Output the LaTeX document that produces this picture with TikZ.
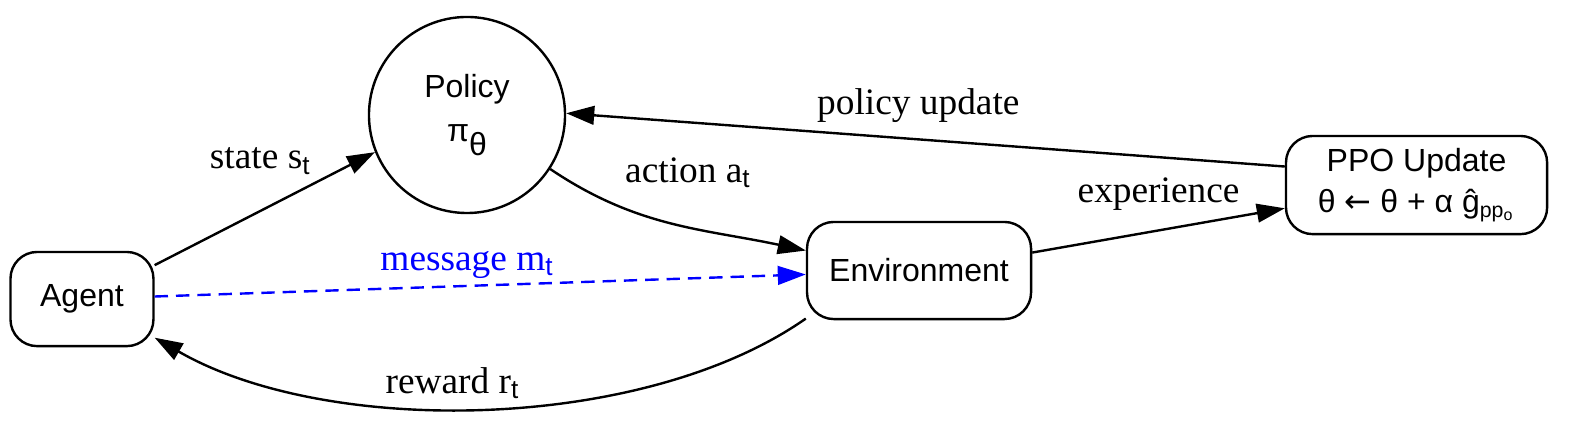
\documentclass[tikz,border=0pt]{standalone}
\usepackage{fontspec}
\setmainfont{Liberation Serif}
\setsansfont{Liberation Sans}
\newfontfamily\symfont{DejaVu Sans}
\usetikzlibrary{arrows.meta}
\newcommand{\subt}{\textsubscript{\sffamily t}}
\tikzset{
    box/.style={draw=black, line width=0.9pt, fill=white, rounded corners=10pt, align=center, inner sep=0pt, font=\sffamily\fontsize{12}{15.5}\selectfont},
    circ/.style={circle, draw=black, line width=0.9pt, fill=white, align=center, inner sep=0pt, minimum size=73.5pt, font=\sffamily\fontsize{12}{14.4}\selectfont},
    arrow/.style={-{Triangle[length=10.5pt, width=7pt]}, line width=0.9pt, black},
    dasharrow/.style={-{Triangle[length=10.5pt, width=7pt]}, line width=0.9pt, blue, dash pattern=on 5pt off 3pt},
    edgelabel/.style={font=\fontsize{14}{16.8}\selectfont, inner sep=0pt}
}
\begin{document}
\begin{tikzpicture}
    \useasboundingbox (0,0) rectangle (20.844,-5.613);
    \node [box, minimum width=53.6pt, minimum height=35.3pt] (agent) at (1.080,-3.940) {Agent};
    \node [circ] (policy) at (6.153,-1.515) {Policy\\[2pt]π\raisebox{-0.45em}{θ}};
    \node [box, minimum width=84pt, minimum height=36.4pt] (env) at (12.109,-3.564) {Environment};
    \node [box, minimum width=97.9pt, minimum height=36.8pt] (ppo) at (18.664,-2.438) {PPO Update\\θ {\symfont←} θ + α ĝ\textsubscript{pp\textsubscript{o}}};
    \draw [arrow] (agent.25) -- node [edgelabel, pos=0.48, yshift=0.66cm] {state s\subt} (policy.202);
    \draw [arrow] (policy.-33) to [out=-34, in=168] node [edgelabel, xshift=0.21cm, yshift=0.67cm] {action a\subt} (env.170);
    \draw [dasharrow] (agent.2) -- node [edgelabel, text=blue, pos=0.48, yshift=0.28cm] {message m\subt} (env.182);
    \draw [arrow] (env.203) to [out=215, in=-30, looseness=0.78] node [edgelabel, xshift=-0.41cm, yshift=0.33cm] {reward r\subt} (agent.-28);
    \draw [arrow] (env.9) -- node [edgelabel, yshift=0.48cm] {experience} (ppo.190);
    \draw [arrow] (ppo.172) -- node [edgelabel, pos=0.51, yshift=0.44cm] {policy update} (policy.1);
\end{tikzpicture}
\end{document}
